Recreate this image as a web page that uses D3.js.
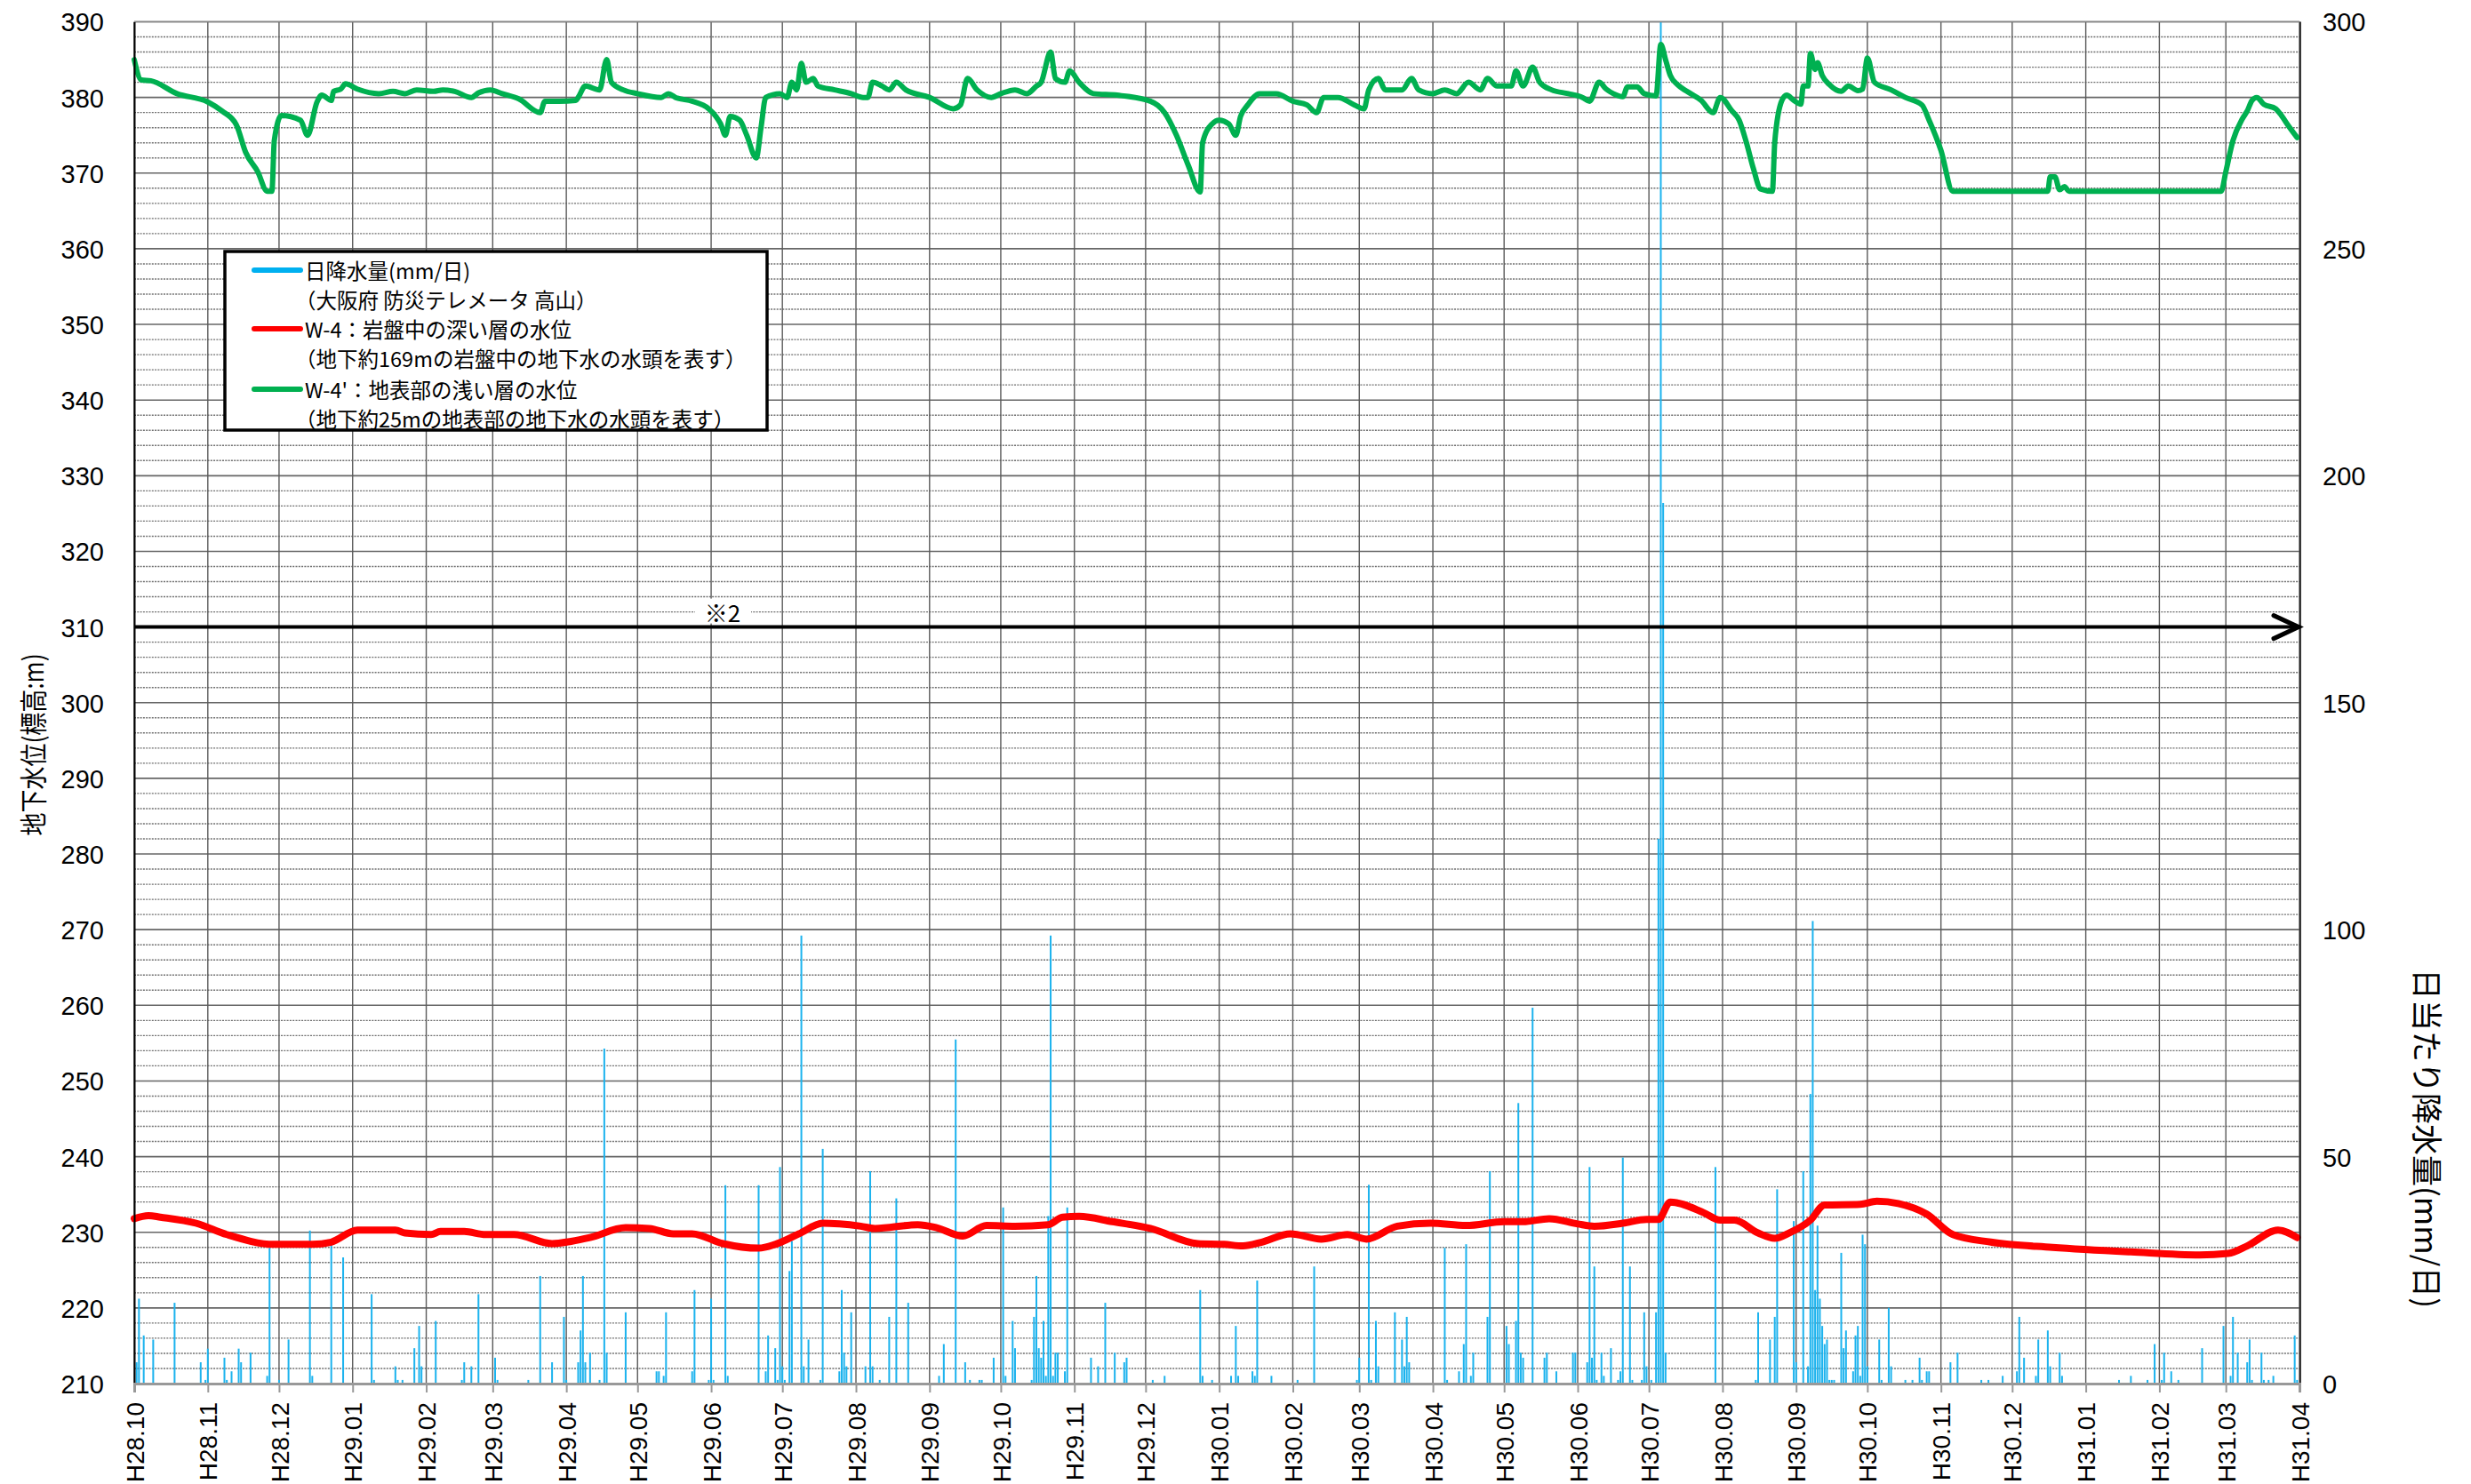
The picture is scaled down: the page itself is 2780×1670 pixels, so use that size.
<!DOCTYPE html>
<meta charset="utf-8">
<script src="https://d3js.org/d3.v7.min.js"></script>
<style>
body { margin: 0; background: #fff; }
svg { display: block; }
text { font-family: "Liberation Sans", Arial, sans-serif; fill: #000; }
.jp { font-family: "Noto Sans CJK JP", sans-serif; }
</style>
<body>
</body>
<script>

  // month labels on the time axis (Heisei year . month)
  var xTickLabels = ["H28.10","H28.11","H28.12","H29.01","H29.02","H29.03","H29.04","H29.05",
    "H29.06","H29.07","H29.08","H29.09","H29.10","H29.11","H29.12","H30.01","H30.02","H30.03",
    "H30.04","H30.05","H30.06","H30.07","H30.08","H30.09","H30.10","H30.11","H30.12","H31.01",
    "H31.02","H31.03","H31.04"];
  var levelTicks = [210,220,230,240,250,260,270,280,290,300,310,320,330,340,350,360,370,380,390];
  var rainTicks = [0,50,100,150,200,250,300];

  // W-4' shallow layer water level (m)
  var shallowLevel = [
    ["2016-10-01",385.0],["2016-10-04",382.3],["2016-10-08",382.2],["2016-10-19",380.5],
    ["2016-11-01",379.4],["2016-11-07",378.2],["2016-11-13",376.4],["2016-11-17",372.7],
    ["2016-11-22",370.2],["2016-11-26",367.6],["2016-11-28",367.6],["2016-11-29",374.3],
    ["2016-12-02",377.6],["2016-12-10",377.0],["2016-12-13",375.0],["2016-12-17",379.4],
    ["2016-12-19",380.3],["2016-12-23",379.6],["2016-12-24",380.8],["2016-12-27",381.1],
    ["2016-12-29",381.8],["2017-01-03",381.1],["2017-01-12",380.5],["2017-01-18",380.8],
    ["2017-01-23",380.5],["2017-01-28",381.0],["2017-02-04",380.8],["2017-02-08",381.0],
    ["2017-02-13",380.8],["2017-02-20",380.0],["2017-02-23",380.6],["2017-02-28",381.0],
    ["2017-03-05",380.5],["2017-03-12",379.8],["2017-03-21",378.0],["2017-03-23",379.5],
    ["2017-03-29",379.5],["2017-04-05",379.6],["2017-04-06",380.0],["2017-04-09",381.5],
    ["2017-04-15",381.0],["2017-04-18",385.0],["2017-04-20",382.0],["2017-04-25",381.0],
    ["2017-05-01",380.5],["2017-05-11",380.0],["2017-05-14",380.5],["2017-05-17",380.0],
    ["2017-05-24",379.5],["2017-05-31",378.5],["2017-06-03",377.5],["2017-06-05",376.5],
    ["2017-06-07",375.0],["2017-06-09",377.5],["2017-06-13",377.0],["2017-06-16",375.0],
    ["2017-06-20",372.0],["2017-06-22",376.0],["2017-06-24",380.0],["2017-06-30",380.5],
    ["2017-07-03",380.0],["2017-07-05",382.0],["2017-07-07",381.0],["2017-07-09",384.5],
    ["2017-07-11",382.0],["2017-07-14",382.5],["2017-07-16",381.5],["2017-07-23",381.0],
    ["2017-07-30",380.5],["2017-08-04",380.0],["2017-08-06",380.0],["2017-08-08",382.0],
    ["2017-08-12",381.5],["2017-08-15",381.0],["2017-08-18",382.0],["2017-08-22",381.0],
    ["2017-09-01",380.0],["2017-09-11",378.5],["2017-09-14",379.0],["2017-09-17",382.5],
    ["2017-09-21",381.0],["2017-09-27",380.0],["2017-10-01",380.5],["2017-10-07",381.0],
    ["2017-10-12",380.5],["2017-10-16",381.5],["2017-10-18",382.0],["2017-10-22",386.0],
    ["2017-10-24",382.5],["2017-10-28",382.0],["2017-10-30",383.5],["2017-11-03",382.0],
    ["2017-11-09",380.5],["2017-11-19",380.3],["2017-12-03",379.5],["2017-12-09",378.0],
    ["2017-12-14",375.0],["2017-12-19",371.0],["2017-12-24",367.5],["2017-12-25",374.0],
    ["2017-12-29",376.5],["2018-01-01",377.0],["2018-01-05",376.5],["2018-01-08",375.0],
    ["2018-01-10",377.5],["2018-01-13",379.0],["2018-01-18",380.5],["2018-01-25",380.5],
    ["2018-02-01",379.5],["2018-02-07",379.0],["2018-02-11",378.0],["2018-02-14",380.0],
    ["2018-02-20",380.0],["2018-02-27",379.0],["2018-03-03",378.5],["2018-03-05",381.0],
    ["2018-03-09",382.5],["2018-03-12",381.0],["2018-03-19",381.0],["2018-03-23",382.5],
    ["2018-03-26",381.0],["2018-04-01",380.5],["2018-04-06",381.0],["2018-04-11",380.5],
    ["2018-04-16",382.0],["2018-04-21",381.0],["2018-04-24",382.5],["2018-04-28",381.5],
    ["2018-05-04",381.5],["2018-05-06",383.5],["2018-05-09",381.5],["2018-05-13",384.0],
    ["2018-05-16",382.0],["2018-05-21",381.0],["2018-05-28",380.5],["2018-06-03",380.0],
    ["2018-06-06",379.5],["2018-06-10",382.0],["2018-06-13",381.1],["2018-06-16",380.5],
    ["2018-06-20",380.1],["2018-06-22",381.4],["2018-06-26",381.4],["2018-06-29",380.5],
    ["2018-07-04",380.2],["2018-07-06",387.0],["2018-07-08",385.0],["2018-07-10",382.9],
    ["2018-07-13",381.7],["2018-07-17",380.8],["2018-07-23",379.6],["2018-07-28",378.0],
    ["2018-07-31",380.0],["2018-08-05",378.2],["2018-08-08",377.0],["2018-08-11",374.1],
    ["2018-08-14",370.6],["2018-08-17",367.9],["2018-08-22",367.6],["2018-08-23",374.1],
    ["2018-08-26",379.6],["2018-08-28",380.3],["2018-08-31",379.6],["2018-09-03",379.1],
    ["2018-09-04",381.5],["2018-09-06",381.5],["2018-09-07",385.8],["2018-09-09",383.7],
    ["2018-09-10",384.6],["2018-09-12",382.9],["2018-09-15",381.7],["2018-09-20",380.8],
    ["2018-09-23",381.5],["2018-09-27",380.9],["2018-09-29",381.1],["2018-10-01",385.2],
    ["2018-10-04",382.0],["2018-10-11",381.0],["2018-10-17",380.0],["2018-10-24",379.0],
    ["2018-10-27",377.0],["2018-11-01",373.0],["2018-11-06",367.6],["2018-12-16",367.6],
    ["2018-12-17",369.5],["2018-12-19",369.5],["2018-12-21",367.8],["2018-12-23",368.2],
    ["2018-12-25",367.6],["2019-02-27",367.6],["2019-03-01",370.2],["2019-03-04",374.3],
    ["2019-03-08",377.2],["2019-03-10",378.2],["2019-03-12",379.6],["2019-03-14",380.0],
    ["2019-03-17",379.1],["2019-03-22",378.5],["2019-03-24",377.8],["2019-03-27",376.4],
    ["2019-03-31",374.7]
  ];

  // W-4 deep (bedrock) water level (m)
  var deepLevel = [
    ["2016-10-01",231.8],["2016-10-07",232.2],["2016-10-12",232.0],["2016-10-27",231.2],
    ["2016-11-09",229.7],["2016-11-29",228.4],["2016-12-15",228.4],["2016-12-23",228.7],
    ["2017-01-03",230.3],["2017-01-19",230.3],["2017-01-23",229.9],["2017-02-03",229.7],
    ["2017-02-07",230.1],["2017-02-17",230.1],["2017-02-26",229.7],["2017-03-10",229.7],
    ["2017-03-26",228.5],["2017-04-03",228.8],["2017-04-11",229.3],["2017-04-26",230.6],
    ["2017-05-06",230.5],["2017-05-16",229.8],["2017-05-24",229.8],["2017-06-06",228.5],
    ["2017-06-21",227.9],["2017-06-28",228.4],["2017-07-08",229.8],["2017-07-18",231.2],
    ["2017-07-25",231.1],["2017-08-03",230.8],["2017-08-09",230.5],["2017-08-27",231.0],
    ["2017-09-04",230.6],["2017-09-15",229.5],["2017-09-25",230.9],["2017-10-07",230.8],
    ["2017-10-21",231.0],["2017-10-27",232.0],["2017-11-03",232.1],["2017-11-17",231.4],
    ["2017-12-03",230.5],["2017-12-23",228.5],["2018-01-03",228.4],["2018-01-11",228.2],
    ["2018-01-19",228.7],["2018-01-31",229.8],["2018-02-13",229.1],["2018-02-24",229.7],
    ["2018-03-04",229.1],["2018-03-17",230.8],["2018-03-31",231.2],["2018-04-15",230.9],
    ["2018-05-01",231.4],["2018-05-09",231.4],["2018-05-20",231.8],["2018-06-01",231.1],
    ["2018-06-08",230.8],["2018-06-20",231.2],["2018-06-30",231.7],["2018-07-05",231.7],
    ["2018-07-10",234.0],["2018-07-24",232.6],["2018-07-31",231.6],["2018-08-06",231.6],
    ["2018-08-16",229.9],["2018-08-23",229.2],["2018-08-29",229.9],["2018-09-07",231.6],
    ["2018-09-13",233.6],["2018-09-28",233.7],["2018-10-05",234.1],["2018-10-14",233.8],
    ["2018-10-26",232.4],["2018-11-06",229.7],["2018-11-22",228.7],["2018-12-18",228.0],
    ["2019-01-20",227.4],["2019-02-18",227.0],["2019-03-02",227.2],["2019-03-10",228.2],
    ["2019-03-23",230.3],["2019-03-31",229.3]
  ];

  // daily rainfall (mm/day), Takayama telemeter
  var dailyRain = [
    ["2016-10-02",4.7],["2016-10-03",18.7],["2016-10-05",10.6],["2016-10-09",9.7],["2016-10-18",17.8],
    ["2016-10-29",4.7],["2016-10-31",0.8],["2016-11-01",7.7],["2016-11-08",5.7],["2016-11-09",0.8],
    ["2016-11-11",2.7],["2016-11-14",7.7],["2016-11-15",4.7],["2016-11-19",6.8],["2016-11-26",1.7],
    ["2016-11-27",29.9],["2016-12-01",0.8],["2016-12-05",9.7],["2016-12-14",33.7],["2016-12-15",1.7],
    ["2016-12-23",31.7],["2016-12-28",27.8],["2017-01-09",19.7],["2017-01-10",0.8],["2017-01-19",3.8],
    ["2017-01-20",0.8],["2017-01-22",0.8],["2017-01-27",7.8],["2017-01-29",12.7],["2017-01-30",3.8],
    ["2017-02-05",13.8],["2017-02-16",0.8],["2017-02-17",4.7],["2017-02-20",3.8],["2017-02-23",19.7],
    ["2017-03-02",5.7],["2017-03-03",0.8],["2017-03-16",0.8],["2017-03-21",23.7],["2017-03-26",4.7],
    ["2017-03-31",14.7],["2017-04-01",0.8],["2017-04-06",4.7],["2017-04-07",11.7],["2017-04-08",23.7],
    ["2017-04-09",4.7],["2017-04-11",6.8],["2017-04-15",0.8],["2017-04-17",73.8],["2017-04-18",6.8],
    ["2017-04-26",15.7],["2017-05-09",2.7],["2017-05-10",2.7],["2017-05-12",1.7],["2017-05-13",15.7],
    ["2017-05-24",2.7],["2017-05-25",20.6],["2017-05-31",0.8],["2017-06-01",18.7],["2017-06-02",0.8],
    ["2017-06-07",43.7],["2017-06-08",1.7],["2017-06-21",43.7],["2017-06-24",2.7],["2017-06-25",10.6],
    ["2017-06-28",7.8],["2017-06-29",0.8],["2017-06-30",47.7],["2017-07-01",3.8],["2017-07-02",0.8],
    ["2017-07-04",24.8],["2017-07-05",31.4],["2017-07-09",98.7],["2017-07-10",3.8],["2017-07-12",9.7],
    ["2017-07-17",0.8],["2017-07-18",51.7],["2017-07-25",2.7],["2017-07-26",20.6],["2017-07-27",6.8],
    ["2017-07-28",3.8],["2017-07-30",15.7],["2017-08-05",3.8],["2017-08-07",46.8],["2017-08-08",3.8],
    ["2017-08-11",0.8],["2017-08-15",14.7],["2017-08-18",40.8],["2017-08-23",17.8],["2017-09-05",1.7],
    ["2017-09-07",8.7],["2017-09-12",75.8],["2017-09-16",4.7],["2017-09-18",0.8],["2017-09-22",0.8],
    ["2017-09-23",0.8],["2017-09-28",5.7],["2017-10-02",38.8],["2017-10-03",1.7],["2017-10-06",13.8],
    ["2017-10-07",7.8],["2017-10-14",0.8],["2017-10-15",14.7],["2017-10-16",23.7],["2017-10-17",7.8],
    ["2017-10-18",5.7],["2017-10-19",13.8],["2017-10-20",1.7],["2017-10-21",36.9],["2017-10-22",98.7],
    ["2017-10-23",1.7],["2017-10-24",6.8],["2017-10-25",6.8],["2017-10-28",2.7],["2017-10-29",38.8],
    ["2017-11-08",5.7],["2017-11-11",3.8],["2017-11-14",17.8],["2017-11-18",6.8],["2017-11-22",4.7],
    ["2017-11-23",5.7],["2017-12-04",0.8],["2017-12-09",1.7],["2017-12-24",20.6],["2017-12-25",1.7],
    ["2017-12-29",0.8],["2018-01-06",1.7],["2018-01-08",12.7],["2018-01-09",1.7],["2018-01-15",2.7],
    ["2018-01-16",1.7],["2018-01-17",22.7],["2018-01-23",1.7],["2018-02-03",0.8],["2018-02-10",25.8],
    ["2018-02-28",0.8],["2018-03-01",5.7],["2018-03-05",43.8],["2018-03-06",0.8],["2018-03-08",13.8],
    ["2018-03-09",3.8],["2018-03-16",15.7],["2018-03-19",9.7],["2018-03-20",3.8],["2018-03-21",14.7],
    ["2018-03-22",4.7],["2018-04-06",29.9],["2018-04-07",0.8],["2018-04-12",2.7],["2018-04-14",8.7],
    ["2018-04-15",30.7],["2018-04-17",1.7],["2018-04-18",6.8],["2018-04-24",14.7],["2018-04-25",46.8],
    ["2018-05-02",12.7],["2018-05-03",8.7],["2018-05-06",13.8],["2018-05-07",61.8],["2018-05-08",6.8],
    ["2018-05-09",5.7],["2018-05-13",82.8],["2018-05-18",5.7],["2018-05-19",6.8],["2018-05-23",2.7],
    ["2018-05-30",6.8],["2018-05-31",6.8],["2018-06-05",4.7],["2018-06-06",47.7],["2018-06-07",5.7],
    ["2018-06-08",25.8],["2018-06-09",0.8],["2018-06-11",6.8],["2018-06-12",1.7],["2018-06-15",7.8],
    ["2018-06-18",0.8],["2018-06-19",2.7],["2018-06-20",49.8],["2018-06-23",25.8],["2018-06-24",0.8],
    ["2018-06-28",0.8],["2018-06-29",15.7],["2018-06-30",3.8],["2018-07-02",0.8],["2018-07-04",15.7],
    ["2018-07-05",120.0],["2018-07-06",310.0],["2018-07-07",194.0],["2018-07-08",6.8],["2018-07-29",47.7],
    ["2018-08-15",0.8],["2018-08-16",15.7],["2018-08-21",9.7],["2018-08-23",14.7],["2018-08-24",42.8],
    ["2018-08-31",35.8],["2018-09-01",4.7],["2018-09-04",46.8],["2018-09-06",3.8],["2018-09-07",63.8],
    ["2018-09-08",101.9],["2018-09-09",20.6],["2018-09-10",34.8],["2018-09-11",18.7],["2018-09-12",12.7],
    ["2018-09-13",8.7],["2018-09-14",9.7],["2018-09-15",0.8],["2018-09-16",0.8],["2018-09-17",0.8],
    ["2018-09-20",28.8],["2018-09-21",7.8],["2018-09-22",11.7],["2018-09-25",2.7],["2018-09-26",10.6],
    ["2018-09-27",12.7],["2018-09-28",1.7],["2018-09-29",32.8],["2018-09-30",30.7],["2018-10-01",3.8],
    ["2018-10-06",9.7],["2018-10-07",0.8],["2018-10-10",16.7],["2018-10-11",3.8],["2018-10-17",0.8],
    ["2018-10-20",0.8],["2018-10-23",5.7],["2018-10-24",0.8],["2018-10-26",2.7],["2018-10-27",2.7],
    ["2018-11-05",4.7],["2018-11-08",6.8],["2018-11-18",0.8],["2018-11-21",0.8],["2018-11-27",1.7],
    ["2018-12-03",2.7],["2018-12-04",14.7],["2018-12-06",5.7],["2018-12-11",1.7],["2018-12-12",9.7],
    ["2018-12-16",11.7],["2018-12-17",3.8],["2018-12-21",6.8],["2018-12-22",1.7],["2019-01-15",0.8],
    ["2019-01-20",1.7],["2019-01-27",0.8],["2019-01-30",8.7],["2019-02-02",0.8],["2019-02-03",6.8],
    ["2019-02-06",2.7],["2019-02-09",0.8],["2019-02-19",7.8],["2019-02-28",12.7],["2019-03-03",1.7],
    ["2019-03-04",14.7],["2019-03-06",6.8],["2019-03-10",4.7],["2019-03-11",9.7],["2019-03-12",0.8],
    ["2019-03-16",6.8],["2019-03-17",0.8],["2019-03-19",0.8],["2019-03-21",1.7],["2019-03-30",10.6],
    ["2019-03-31",0.8]
  ];

  var parseDate = d3.utcParse("%Y-%m-%d");
  function labelDate(s) {
    var p = s.slice(1).split(".");
    return new Date(Date.UTC(+p[0] + 1988, +p[1] - 1, 1));
  }

  var width = 2780, height = 1670;
  var margin = {top: 24.5, right: 193, bottom: 113, left: 151};
  var plotW = width - margin.left - margin.right,
      plotH = height - margin.top - margin.bottom;

  var svg = d3.select("body").append("svg")
      .attr("width", width)
      .attr("height", height);

  svg.append("rect").attr("width", width).attr("height", height).attr("fill", "#fff");

  var g = svg.append("g")
      .attr("transform", "translate(" + margin.left + "," + margin.top + ")");

  var tickDates = xTickLabels.map(labelDate);

  var x = d3.scaleUtc()
    .domain([tickDates[0], tickDates[tickDates.length - 1]])
    .range([0, plotW]);

  var yL = d3.scaleLinear().domain([210, 390]).range([plotH, 0]);
  var yR = d3.scaleLinear().domain([0, 300]).range([plotH, 0]);

  g.append("clipPath").attr("id", "plotclip")
    .append("rect").attr("width", plotW).attr("height", plotH);

  // minor (dashed) and major (solid) horizontal grid
  var minor = d3.range(212, 390, 2).filter(function(v) { return v % 10 !== 0; });
  g.selectAll(".minor").data(minor).enter().append("line")
    .attr("x1", 0).attr("x2", plotW)
    .attr("y1", function(d) { return yL(d); }).attr("y2", function(d) { return yL(d); })
    .attr("stroke", "#707070").attr("stroke-width", 1.4).attr("stroke-dasharray", "2,1.3");

  g.selectAll(".major").data(levelTicks).enter().append("line")
    .attr("x1", 0).attr("x2", plotW)
    .attr("y1", function(d) { return yL(d); }).attr("y2", function(d) { return yL(d); })
    .attr("stroke", "#666").attr("stroke-width", 1.6);

  g.selectAll(".vgrid").data(tickDates).enter().append("line")
    .attr("x1", function(d) { return x(d); }).attr("x2", function(d) { return x(d); })
    .attr("y1", 0).attr("y2", plotH)
    .attr("stroke", "#5a5a5a").attr("stroke-width", 1.4);

  // rainfall bars (right axis)
  var rain = dailyRain.map(function(d) { return {date: parseDate(d[0]), v: d[1]}; });
  g.append("g").attr("clip-path", "url(#plotclip)")
    .selectAll("rect").data(rain).enter().append("rect")
    .attr("x", function(d) { return x(d.date) - 1; })
    .attr("width", 2)
    .attr("y", function(d) { return yR(d.v); })
    .attr("height", function(d) { return plotH - yR(d.v); })
    .attr("fill", "#1cb3ee");

  // water level lines
  var line = d3.line()
    .curve(d3.curveMonotoneX)
    .x(function(d) { return x(d.date); })
    .y(function(d) { return yL(d.v); });

  var deep = deepLevel.map(function(d) { return {date: parseDate(d[0]), v: d[1]}; });
  var shallow = shallowLevel.map(function(d) { return {date: parseDate(d[0]), v: d[1]}; });

  g.append("path").datum(deep)
    .attr("d", line).attr("fill", "none")
    .attr("stroke", "#ff0000").attr("stroke-width", 8)
    .attr("stroke-linejoin", "round").attr("stroke-linecap", "round");

  g.append("path").datum(shallow)
    .attr("d", line).attr("fill", "none")
    .attr("stroke", "#00b050").attr("stroke-width", 6)
    .attr("stroke-linejoin", "round").attr("stroke-linecap", "round");

  // frame
  g.append("line").attr("x1", 0).attr("x2", plotW).attr("y1", 0).attr("y2", 0)
    .attr("stroke", "#888").attr("stroke-width", 1.5);
  g.append("line").attr("x1", plotW + 1).attr("x2", plotW + 1).attr("y1", 0).attr("y2", plotH)
    .attr("stroke", "#000").attr("stroke-width", 1.5);

  // axes
  var yAxisL = d3.axisLeft(yL).tickValues(levelTicks).tickSize(0).tickPadding(34);
  var gl = g.append("g").attr("class", "y axis").call(yAxisL);
  gl.select(".domain").attr("stroke", "#000").attr("stroke-width", 2);
  gl.selectAll("text").style("font-size", "29px").attr("dy", "0.36em");

  var yAxisR = d3.axisRight(yR).tickValues(rainTicks).tickSize(0).tickPadding(26);
  var gr = g.append("g").attr("transform", "translate(" + plotW + ",0)").call(yAxisR);
  gr.select(".domain").remove();
  gr.selectAll("text").style("font-size", "29px").attr("dy", "0.36em");

  var xAxis = d3.axisBottom(x).tickValues(tickDates).tickSize(10)
    .tickFormat(function(d, i) { return xTickLabels[i]; });
  var gx = g.append("g").attr("transform", "translate(0," + plotH + ")").call(xAxis);
  gx.select(".domain").attr("stroke", "#999").attr("stroke-width", 3);
  gx.selectAll(".tick line").attr("stroke", "#999").attr("stroke-width", 2);
  gx.selectAll("text")
    .style("font-size", "28px")
    .attr("transform", "rotate(-90)")
    .attr("text-anchor", "end")
    .attr("x", -21).attr("y", 0).attr("dy", "0.36em");

  // ※2 arrow at 310 m
  var yArrow = yL(310);
  g.append("line").attr("x1", 0).attr("x2", plotW - 2).attr("y1", yArrow).attr("y2", yArrow)
    .attr("stroke", "#000").attr("stroke-width", 4);
  g.append("path")
    .attr("d", "M" + (plotW - 29) + "," + (yArrow - 13) + "L" + (plotW - 1) + "," + yArrow +
               "L" + (plotW - 29) + "," + (yArrow + 13))
    .attr("fill", "none").attr("stroke", "#000").attr("stroke-width", 5)
    .attr("stroke-linecap", "round");
  g.append("rect").attr("x", 782 - margin.left).attr("y", yArrow - 32)
    .attr("width", 63).attr("height", 28).attr("fill", "#fff");
  g.append("text").attr("class", "jp")
    .attr("x", 813 - margin.left).attr("y", yArrow - 17)
    .attr("text-anchor", "middle").attr("dominant-baseline", "central")
    .style("font-size", "26px").text("※2");

  // axis titles
  svg.append("text").attr("class", "jp")
    .attr("transform", "translate(35,838) rotate(-90)")
    .attr("text-anchor", "middle").attr("dominant-baseline", "central")
    .style("font-size", "31px").attr("textLength", 205).attr("lengthAdjust", "spacingAndGlyphs")
    .text("地下水位(標高:m)");

  svg.append("text").attr("class", "jp")
    .attr("transform", "translate(2732,1281) rotate(90)")
    .attr("text-anchor", "middle").attr("dominant-baseline", "central")
    .style("font-size", "35px").text("日当たり降水量(mm/日)");

  // legend
  var legend = svg.append("g");
  legend.append("rect").attr("x", 253).attr("y", 283).attr("width", 610).attr("height", 201)
    .attr("fill", "#fff").attr("stroke", "#000").attr("stroke-width", 3.5);

  var legendItems = [
    {color: "#00b0f0", y: 304, lines: ["日降水量(mm/日)", "（大阪府 防災テレメータ 高山）"]},
    {color: "#ff0000", y: 370, lines: ["W-4：岩盤中の深い層の水位", "（地下約169mの岩盤中の地下水の水頭を表す）"]},
    {color: "#00b050", y: 438, lines: ["W-4'：地表部の浅い層の水位", "（地下約25mの地表部の地下水の水頭を表す）"]}
  ];
  legendItems.forEach(function(it) {
    legend.append("line").attr("x1", 286).attr("x2", 338).attr("y1", it.y).attr("y2", it.y)
      .attr("stroke", it.color).attr("stroke-width", 6).attr("stroke-linecap", "round");
    legend.append("text").attr("class", "jp")
      .attr("x", 343).attr("y", it.y).attr("dominant-baseline", "central")
      .style("font-size", "23.5px").text(it.lines[0]);
    legend.append("text").attr("class", "jp")
      .attr("x", 332).attr("y", it.y + 33).attr("dominant-baseline", "central")
      .style("font-size", "23.5px").text(it.lines[1]);
  });

</script>
